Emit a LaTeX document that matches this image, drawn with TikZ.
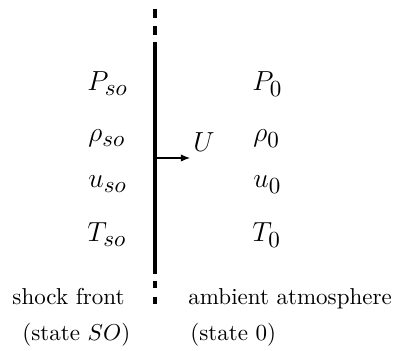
\documentclass[tikz,border=0pt]{standalone}
\DeclareMathSizes{12}{12}{10}{7}
\usetikzlibrary{arrows.meta}
\begin{document}
\begin{tikzpicture}[x=0.4348pt,y=-0.4348pt,
  front/.style={line width=1.75pt,line cap=butt},
  sym/.style={anchor=base west,inner sep=0pt,font=\large},
  lbl/.style={anchor=base west,inner sep=0pt}]
\useasboundingbox (0,0) rectangle (397,351);
% shock front line
\draw[front] (155,9) -- (155,18);
\draw[front] (155,26) -- (155,35);
\draw[front] (155,42) -- (155,274);
\draw[front] (155,281) -- (155,288);
\draw[front] (155,297) -- (155,304);
% left state
\node[sym] (pso) at (87,91) {$P_{so}$};
\node[sym] (rso) at (88,142) {$\rho_{so}$};
\node[sym] (uso) at (88,188) {$u_{so}$};
\node[sym] (tso) at (87,242) {$T_{so}$};
% right state
\node[sym] (p0) at (252,91) {$P_0$};
\node[sym] (r0) at (253,142) {$\rho_0$};
\node[sym] (u0) at (253,188) {$u_0$};
\node[sym] (t0) at (252,242) {$T_0$};
% velocity
\coordinate (a0) at (157,158);
\coordinate (a1) at (190,158);
\draw[line width=0.45pt,-{Latex[length=4pt,width=3.2pt]}] (a0) -- (a1);
\node[sym] (U) at (193,152) {$U$};
% bottom labels
\node[lbl] (sf) at (12,305) {shock front};
\node[lbl] (sso) at (22,341) {(state $SO$)};
\node[lbl] (aa) at (188,305) {ambient atmosphere};
\node[lbl] (s0) at (190,341) {(state 0)};
\end{tikzpicture}
\end{document}
